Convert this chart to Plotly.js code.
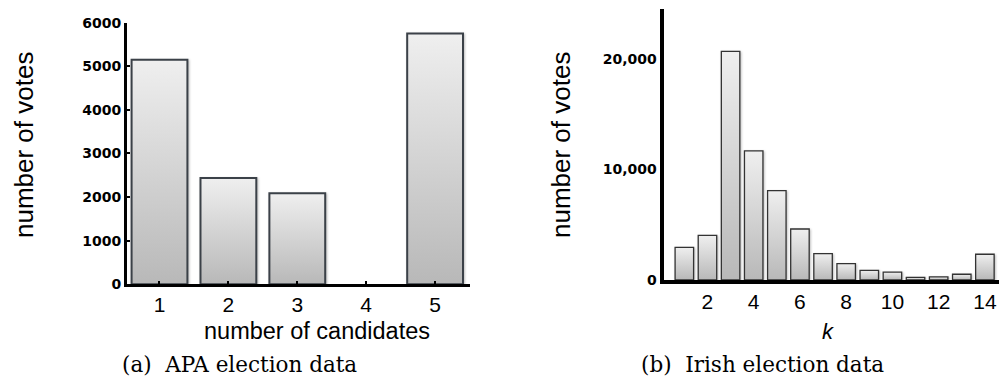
<!DOCTYPE html>
<html><head><meta charset="utf-8">
<script src="https://cdn.plot.ly/plotly-3.0.1.min.js"></script>
<style>html,body{margin:0;padding:0;background:#fff}#chart{width:999px;height:379px}</style>
</head><body><div id="chart"></div>
<script>
// (a) APA election data
const apaCandidates = [1, 2, 3, 4, 5];
const apaVotes = [5150, 2440, 2090, 0, 5750];
const apaYTicks = [0, 1000, 2000, 3000, 4000, 5000, 6000];

// (b) Irish election data
const irishK = [1, 2, 3, 4, 5, 6, 7, 8, 9, 10, 11, 12, 13, 14];
const irishVotes = [2950, 4040, 20700, 11700, 8100, 4620, 2380, 1480, 880, 720, 230, 290, 520, 2330];
const irishYTicks = [0, 10000, 20000];
const irishYTickText = ['0', '10,000', '20,000'];
const irishXTicks = [2, 4, 6, 8, 10, 12, 14];

const sans = 'Liberation Sans';
const boldTick = {family: 'DejaVu Sans', size: 14, color: '#000', weight: 'bold'};
const bigTick = {family: sans, size: 21, color: '#000'};

const data = [
  {type: 'bar', x: apaCandidates, y: apaVotes, xaxis: 'x', yaxis: 'y', width: 0.81,
   marker: {color: '#d6d6d6', line: {color: '#3b4148', width: apaVotes.map(v => v > 0 ? 2 : 0)}}, hoverinfo: 'none'},
  {type: 'bar', x: irishK, y: irishVotes, xaxis: 'x2', yaxis: 'y2', width: 0.8,
   marker: {color: '#d6d6d6', line: {color: '#333333', width: 1.3}}, hoverinfo: 'none'}
];

const layout = {
  width: 999, height: 379,
  margin: {l: 0, r: 0, t: 0, b: 0},
  paper_bgcolor: '#fff', plot_bgcolor: 'rgba(0,0,0,0)',
  showlegend: false,
  xaxis: {domain: [0.1271, 0.4705], range: [0.528, 5.507], anchor: 'y',
    showline: true, linewidth: 3, linecolor: '#000', ticks: 'inside', ticklen: 3, tickwidth: 2, tickcolor: '#000',
    tickvals: apaCandidates, tickfont: bigTick, showgrid: false, zeroline: false, fixedrange: true},
  yaxis: {domain: [0.2499, 0.9401], range: [0, 6000], anchor: 'x',
    showline: true, linewidth: 3, linecolor: '#000', ticks: 'inside', ticklen: 3, tickwidth: 2, tickcolor: '#000',
    tickvals: apaYTicks, tickfont: boldTick, showgrid: false, zeroline: false, fixedrange: true},
  xaxis2: {domain: [0.6642, 1.0], range: [0.1, 14.61], anchor: 'y2',
    showline: true, linewidth: 4, linecolor: '#000', ticks: '',
    tickvals: irishXTicks, tickfont: bigTick, showgrid: false, zeroline: false, fixedrange: true},
  yaxis2: {domain: [0.2612, 0.9763], range: [0, 24540], anchor: 'x2',
    showline: true, linewidth: 4, linecolor: '#000', ticks: '',
    tickvals: irishYTicks, ticktext: irishYTickText, tickfont: boldTick, ticklabelshift: 3.5,
    showgrid: false, zeroline: false, fixedrange: true},
  annotations: [
    {text: 'number of votes', xref: 'paper', yref: 'paper', x: 24/999, y: 0.6174, textangle: -90,
     showarrow: false, xanchor: 'center', yanchor: 'middle', font: {family: sans, size: 26, color: '#000'}},
    {text: 'number of votes', xref: 'paper', yref: 'paper', x: 561/999, y: 0.6174, textangle: -90,
     showarrow: false, xanchor: 'center', yanchor: 'middle', font: {family: sans, size: 26, color: '#000'}},
    {text: 'number of candidates', xref: 'paper', yref: 'paper', x: 316.5/999, y: 0.126,
     showarrow: false, xanchor: 'center', yanchor: 'middle', font: {family: sans, size: 23.5, color: '#000'}},
    {text: 'k', xref: 'paper', yref: 'paper', x: 828.3/999, y: 0.126,
     showarrow: false, xanchor: 'center', yanchor: 'middle', font: {family: sans, size: 22, color: '#000', style: 'italic'}},
    {text: '(a)  APA election data', xref: 'paper', yref: 'paper', x: 239.5/999, y: 0.037,
     showarrow: false, xanchor: 'center', yanchor: 'middle', font: {family: 'DejaVu Serif', size: 21.5, color: '#000'}},
    {text: '(b)  Irish election data', xref: 'paper', yref: 'paper', x: 762/999, y: 0.037,
     showarrow: false, xanchor: 'center', yanchor: 'middle', font: {family: 'DejaVu Serif', size: 21.5, color: '#000'}}
  ]
};

Plotly.newPlot('chart', data, layout, {staticPlot: true, displayModeBar: false}).then(function (gd) {
  const ns = 'http://www.w3.org/2000/svg';
  const svg = gd.querySelector('svg.main-svg');
  let defs = svg.querySelector('defs');
  if (!defs) { defs = document.createElementNS(ns, 'defs'); svg.insertBefore(defs, svg.firstChild); }
  const grad = document.createElementNS(ns, 'linearGradient');
  grad.setAttribute('id', 'barGrad');
  grad.setAttribute('x1', '0'); grad.setAttribute('y1', '0');
  grad.setAttribute('x2', '0'); grad.setAttribute('y2', '1');
  [['0', '#efefef'], ['1', '#b8b8b8']].forEach(function (s) {
    const st = document.createElementNS(ns, 'stop');
    st.setAttribute('offset', s[0]); st.setAttribute('stop-color', s[1]);
    grad.appendChild(st);
  });
  defs.appendChild(grad);
  gd.querySelectorAll('.barlayer .point path').forEach(function (p) {
    p.style.fill = 'url(#barGrad)';
    p.style.filter = 'drop-shadow(1px 1px 1px rgba(0,0,0,0.25))';
  });
});
</script>
</body></html>
